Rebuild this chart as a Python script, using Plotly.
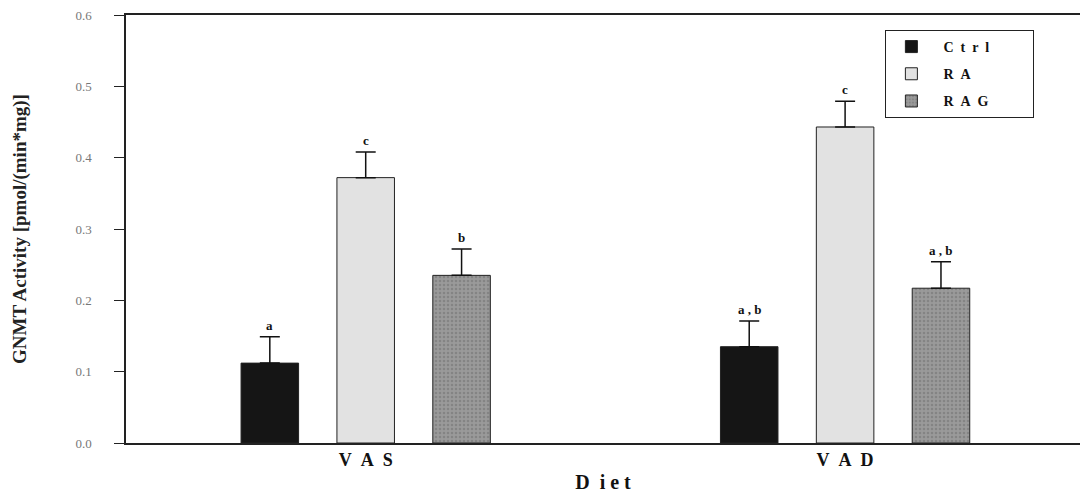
import plotly.graph_objects as go

NB = "\u00a0"
diets = ["V A S", "V A D"]
diet_pos = [0, 1]
groups = ["C trl", "R A", "R A G"]
legend_labels = ["C t r l", "R A", "R A G"]
means = {
    "C trl": [0.112, 0.135],
    "R A": [0.372, 0.443],
    "R A G": [0.235, 0.217],
}
errs = {
    "C trl": [0.037, 0.036],
    "R A": [0.036, 0.036],
    "R A G": [0.037, 0.037],
}
letters = {
    "C trl": ["a", "a , b"],
    "R A": ["c", "c"],
    "R A G": ["b", "a , b"],
}
colors = {"C trl": "#151515", "R A": "#e2e2e2", "R A G": "#9a9a9a"}
y_ticks = [0.0, 0.1, 0.2, 0.3, 0.4, 0.5, 0.6]


def spaced(s, n=2):
    return s.replace(" ", NB * n)


serif = "Liberation Serif, Times New Roman, serif"

fig = go.Figure()
for g, lab in zip(groups, legend_labels):
    marker = dict(color=colors[g], line=dict(color="#222", width=1))
    if g == "R A G":
        marker["pattern"] = dict(shape=".", fgcolor="#6e6e6e", size=4, solidity=0.35)
    fig.add_trace(go.Bar(
        name=NB * 2 + spaced(lab) + NB * 11, legendgroup=g,
        x=diet_pos, y=means[g], marker=marker,
        error_y=dict(type="data", array=errs[g], arrayminus=[0, 0], symmetric=False,
                     color="#111", thickness=1.5, width=10),
    ))

offsets = [-0.2, 0.0, 0.2]
for gi, g in enumerate(groups):
    for di, d in enumerate(diet_pos):
        fig.add_annotation(
            x=d + offsets[gi], y=means[g][di] + errs[g][di],
            text=letters[g][di], showarrow=False, yanchor="bottom", yshift=2,
            font=dict(family=serif, size=13, color="#111", weight="bold"),
        )

fig.update_layout(
    width=1080, height=501,
    margin=dict(l=126, r=0, t=15, b=58),
    paper_bgcolor="white", plot_bgcolor="white",
    barmode="group", bargap=0.4, bargroupgap=0.4,
    showlegend=True,
    legend=dict(
        x=0.796, y=0.965, xanchor="left", yanchor="top",
        bordercolor="#222", borderwidth=1, bgcolor="white",
        font=dict(family=serif, size=14, color="#111", weight="bold"),
        itemwidth=40, tracegroupgap=6,
    ),
    font=dict(family=serif),
)
fig.update_xaxes(
    range=[-0.5, 1.49], tickvals=diet_pos, ticktext=[spaced(d, 2) for d in diets],
    showline=True, linecolor="#222", linewidth=1.5, mirror=True,
    ticks="", showgrid=False, zeroline=False,
    tickfont=dict(family=serif, size=18, color="#111", weight="bold"),
    title=dict(text="D" + NB * 2 + "i" + NB + "e" + NB + "t",
               font=dict(family=serif, size=20, color="#111", weight="bold"), standoff=6),
)
fig.update_yaxes(
    range=[0, 0.6], tickvals=y_ticks, ticktext=[f"{v:.1f}" for v in y_ticks],
    showline=True, linecolor="#222", linewidth=1.5, mirror=False,
    ticks="outside", ticklen=10, tickcolor="#222", tickwidth=1,
    ticklabelstandoff=20,
    showgrid=False, zeroline=False,
    tickfont=dict(family=serif, size=13, color="#777"),
    title=dict(text="GNMT Activity [pmol/(min*mg)]",
               font=dict(family=serif, size=19, color="#222", weight="bold"), standoff=44),
)

fig.write_html("out.html")
